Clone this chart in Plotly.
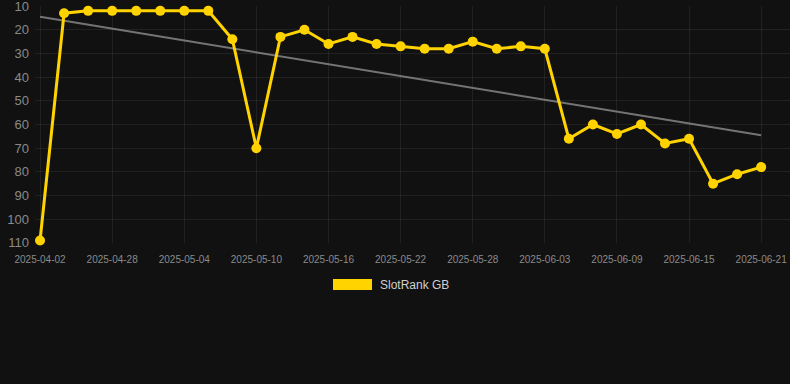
import numpy as np
import plotly.graph_objects as go

dates = ["2025-04-02", "2025-04-24", "2025-04-26", "2025-04-28", "2025-04-30",
         "2025-05-02", "2025-05-04", "2025-05-06", "2025-05-08", "2025-05-10",
         "2025-05-12", "2025-05-14", "2025-05-16", "2025-05-18", "2025-05-20",
         "2025-05-22", "2025-05-24", "2025-05-26", "2025-05-28", "2025-05-30",
         "2025-06-01", "2025-06-03", "2025-06-05", "2025-06-07", "2025-06-09",
         "2025-06-11", "2025-06-13", "2025-06-15", "2025-06-17", "2025-06-19",
         "2025-06-21"]
rank = [109, 13, 12, 12, 12, 12, 12, 12, 24, 70, 23, 20, 26, 23, 26, 27, 28, 28,
        25, 28, 27, 28, 66, 60, 64, 60, 68, 66, 85, 81, 78]
tick_labels = dates[::3]
y_ticks = [10, 20, 30, 40, 50, 60, 70, 80, 90, 100, 110]
series_name = "SlotRank GB"

# linear trend (least squares) over the series
idx = np.arange(len(rank))
slope, intercept = np.polyfit(idx, rank, 1)
trend = [intercept, intercept + slope * (len(rank) - 1)]

BG = "#111111"
GOLD = "#FFD300"
GRID = "rgba(255,255,255,0.07)"
TICK = "#8a8a8a"

fig = go.Figure()
fig.add_trace(go.Scatter(
    x=dates, y=rank, mode="lines+markers", name=series_name,
    line=dict(color=GOLD, width=3),
    marker=dict(color=GOLD, size=10),
    cliponaxis=False, showlegend=False))
fig.add_trace(go.Scatter(
    x=[dates[0], dates[-1]], y=trend, mode="lines",
    line=dict(color="rgba(150,150,150,0.75)", width=2),
    showlegend=False, hoverinfo="skip"))
# keep data line on top of trend
fig.data = (fig.data[1], fig.data[0])

# legend drawn manually (filled box + label)
fig.add_shape(type="rect", xref="paper", yref="paper",
              x0=(333 - 35) / 755, x1=(372 - 35) / 755,
              y0=(243 - 290) / 237, y1=(243 - 279) / 237,
              fillcolor=GOLD, line=dict(width=0))
fig.add_annotation(xref="paper", yref="paper",
                   x=(378 - 35) / 755, y=(243 - 284.5) / 237,
                   xanchor="left", yanchor="middle", showarrow=False,
                   text=series_name,
                   font=dict(family="Liberation Sans, Arial, sans-serif",
                             size=12, color="#d0d0d0"))

fig.update_layout(
    width=790, height=384,
    margin=dict(l=35, r=0, t=6, b=141),
    paper_bgcolor=BG, plot_bgcolor=BG,
    font=dict(family="Liberation Sans, Arial, sans-serif", color=TICK),
    showlegend=False,
    xaxis=dict(type="category", categoryorder="array", categoryarray=dates,
               range=[-0.21, 31.2],
               tickvals=tick_labels, ticktext=tick_labels,
               tickfont=dict(size=10, color=TICK),
               showgrid=True, gridcolor=GRID, gridwidth=1,
               zeroline=False, showline=False, ticks="",
               ticklabelstandoff=9),
    yaxis=dict(range=[110.05, 9.95], tickvals=y_ticks,
               tickfont=dict(size=13, color=TICK),
               showgrid=True, gridcolor=GRID, gridwidth=1,
               zeroline=False, showline=False, ticks="",
               ticklabeloverflow="allow",
               ticklabelstandoff=5),
)

fig.write_html("out.html",
               config={"displayModeBar": False},
               post_script="document.body.style.margin='0px';"
                           "document.body.style.background='#111111';")
